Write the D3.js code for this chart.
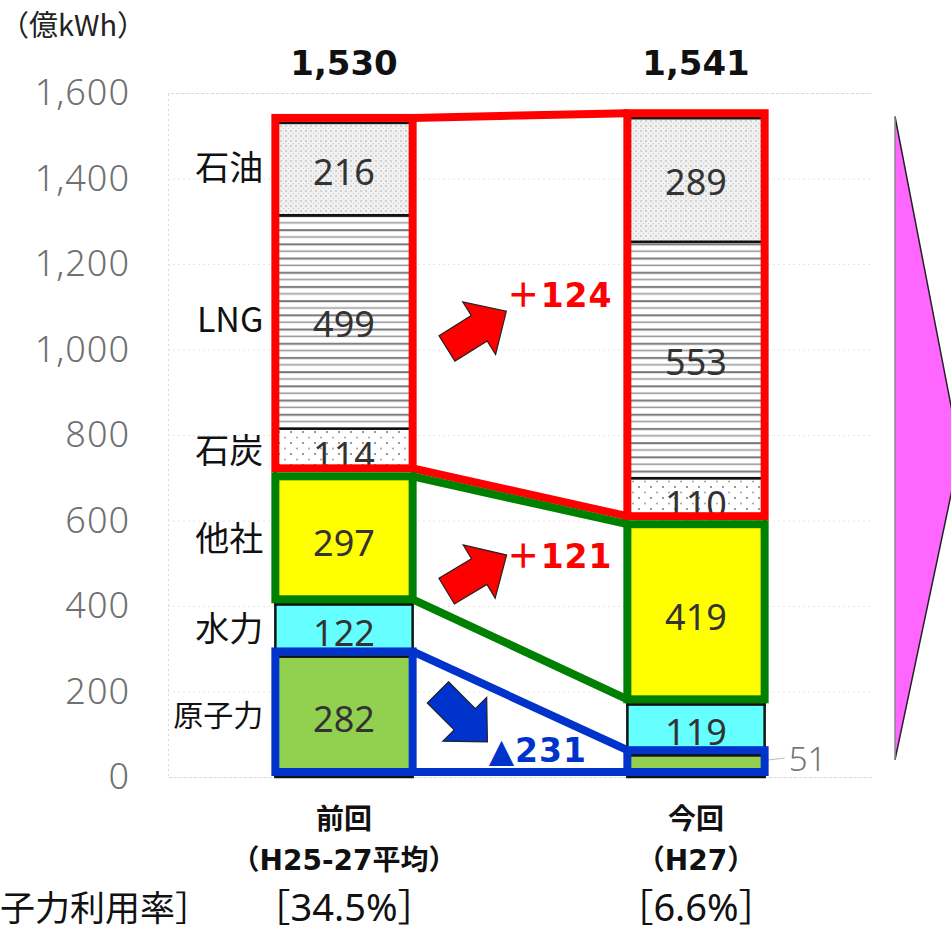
<!DOCTYPE html>
<html>
<head>
<meta charset="utf-8">
<script src="https://cdn.jsdelivr.net/npm/d3@7"></script>
<style>
    body { margin: 0; background: #fff; }
    svg { display: block; }
</style>
</head>
<body>
<svg></svg>
<script>
let width = 951;
let height = 931;

// data (億kWh)
let periods = ['前回', '今回'];
let periodSubs = ['（H25-27平均）', '（H27）'];
let utilRates = ['［34.5%］', '［6.6%］'];
let sources = ['原子力', '水力', '他社', '石炭', 'LNG', '石油'];
let prevValues = [282, 122, 297, 114, 499, 216];
let currValues = [51, 119, 419, 110, 553, 289];
let totalLabels = ['1,530', '1,541'];
let yTicks = [0, 200, 400, 600, 800, 1000, 1200, 1400, 1600];
let changeLabels = ['＋124', '＋121', '▲231'];

let fills = {
    '原子力': '#92d050',
    '水力': '#66ffff',
    '他社': '#ffff00',
    '石炭': 'url(#pat-coal)',
    'LNG': 'url(#pat-lng)',
    '石油': 'url(#pat-oil)'
};

// outlined groups: index range into sources
let groups = [
    { from: 3, to: 5, color: '#ff0000' },
    { from: 2, to: 2, color: '#008000' },
    { from: 0, to: 0, color: '#0033cc' }
];

let table = periods.map((p, j) => {
    let row = { period: p };
    sources.forEach((s, i) => {
        row[s] = j === 0 ? prevValues[i] : currValues[i];
    });
    return row;
});

let svg = d3.select('svg').attr('width', width).attr('height', height);

let xScale = d3.scaleBand()
    .domain(periods)
    .range([168, 872])
    .paddingInner(0.61)
    .paddingOuter(0.305);
let yScale = d3.scaleLinear().domain([0, 1600]).range([777, 93]);
let bw = xScale.bandwidth();

let stacked = d3.stack().keys(sources)(table);

// patterns
let defs = svg.append('defs');
let oil = defs.append('pattern').attr('id', 'pat-oil')
    .attr('patternUnits', 'userSpaceOnUse').attr('width', 5).attr('height', 5);
oil.append('rect').attr('width', 5).attr('height', 5).attr('fill', '#f1f1f1');
oil.append('circle').attr('cx', 1).attr('cy', 1).attr('r', 0.8).attr('fill', '#aaa');
oil.append('circle').attr('cx', 3.5).attr('cy', 3.5).attr('r', 0.6).attr('fill', '#c4c4c4');

let lng = defs.append('pattern').attr('id', 'pat-lng')
    .attr('patternUnits', 'userSpaceOnUse').attr('width', 10).attr('height', 14.2);
lng.append('rect').attr('width', 10).attr('height', 14.2).attr('fill', '#fff');
lng.append('rect').attr('y', 2).attr('width', 10).attr('height', 2).attr('fill', '#777');
lng.append('rect').attr('y', 9).attr('width', 10).attr('height', 1.6).attr('fill', '#9a9a9a');

let coal = defs.append('pattern').attr('id', 'pat-coal')
    .attr('patternUnits', 'userSpaceOnUse').attr('width', 12).attr('height', 11);
coal.append('rect').attr('width', 12).attr('height', 11).attr('fill', '#fff');
coal.append('circle').attr('cx', 3).attr('cy', 3).attr('r', 1).attr('fill', '#777');
coal.append('circle').attr('cx', 9).attr('cy', 8.5).attr('r', 0.9).attr('fill', '#999');

// grid
svg.append('g')
    .attr('transform', `translate(${xScale.range()[0]},0)`)
    .call(d3.axisLeft(yScale).tickValues(yTicks)
        .tickSize(-(xScale.range()[1] - xScale.range()[0])).tickFormat(''))
    .call((g) => g.select('.domain').attr('stroke', '#d8d8d8').attr('stroke-dasharray', '2,3'))
    .call((g) => g.selectAll('.tick line').attr('stroke', '#e6e6e6').attr('stroke-dasharray', '2,3'));

// y axis labels
svg.append('g')
    .attr('transform', `translate(${xScale.range()[0]},0)`)
    .call(d3.axisLeft(yScale).tickValues(yTicks).tickSize(0).tickPadding(38)
        .tickFormat(d3.format(',')))
    .call((g) => g.select('.domain').remove())
    .selectAll('text')
    .attr('font-family', '"Noto Sans", sans-serif')
    .attr('font-weight', 300)
    .attr('font-size', 36)
    .attr('letter-spacing', 1)
    .attr('fill', '#707070');

// unit
svg.append('text')
    .attr('x', 0).attr('y', 36)
    .attr('font-family', '"Noto Sans CJK JP", sans-serif')
    .attr('font-size', 29)
    .attr('fill', '#222')
    .text('（億kWh）');

// stacked segments
let layers = svg.append('g').selectAll('g')
    .data(stacked)
    .join('g')
    .attr('fill', (d) => fills[d.key]);

layers.selectAll('rect')
    .data((d) => d)
    .join('rect')
    .attr('x', (d) => xScale(d.data.period))
    .attr('y', (d) => yScale(d[1]))
    .attr('width', bw)
    .attr('height', (d) => yScale(d[0]) - yScale(d[1]))
    .attr('stroke', '#111')
    .attr('stroke-width', 2.5);

// value labels
stacked.forEach((layer) => {
    layer.forEach((d) => {
        let v = d[1] - d[0];
        let cx = xScale(d.data.period) + bw / 2;
        let cy = yScale((d[0] + d[1]) / 2);
        if (v < 80) {
            let lx = xScale(d.data.period) + bw;
            svg.append('line')
                .attr('x1', lx + 2).attr('x2', lx + 20)
                .attr('y1', cy - 6).attr('y2', cy - 8)
                .attr('stroke', '#bbb').attr('stroke-width', 1);
            svg.append('text')
                .attr('x', lx + 24).attr('y', cy - 8)
                .attr('dominant-baseline', 'central')
                .attr('font-family', '"Noto Sans", sans-serif')
                .attr('font-weight', 300)
                .attr('font-size', 33)
                .attr('fill', '#777')
                .text(v);
        } else {
            svg.append('text')
                .attr('x', cx).attr('y', cy + 2)
                .attr('text-anchor', 'middle')
                .attr('dominant-baseline', 'central')
                .attr('font-family', '"Noto Sans", sans-serif')
                .attr('font-size', 36)
                .attr('fill', '#333')
                .text(v);
        }
    });
});

// source labels left of first bar
stacked.forEach((layer) => {
    let d = layer[0];
    let longName = /[^\x00-\x7f]{3}/.test(layer.key);
    svg.append('text')
        .attr('x', xScale(periods[0]) - 12)
        .attr('y', yScale((d[0] + d[1]) / 2) - 4)
        .attr('text-anchor', 'end')
        .attr('dominant-baseline', 'central')
        .attr('font-family', '"Noto Sans CJK JP", sans-serif')
        .attr('font-size', longName ? 30 : 34)
        .attr('fill', '#111')
        .text(layer.key);
});

// group outlines and connectors
let shift = -5;
let edgeY = (g, j) => {
    let top = stacked[g.to][j][1];
    let bottom = stacked[g.from][j][0];
    let adjAbove = groups.some((o) => o.from === g.to + 1);
    let adjBelow = groups.some((o) => o.to === g.from - 1);
    return {
        top: yScale(top) + shift + (adjAbove ? 4 : 0),
        bottom: yScale(bottom) + shift - (adjBelow ? 4 : 0)
    };
};

groups.forEach((g) => {
    let e0 = edgeY(g, 0);
    let e1 = edgeY(g, 1);
    let xl = xScale(periods[0]);
    let xr = xScale(periods[1]);
    [[xl, e0], [xr, e1]].forEach(([x, e]) => {
        svg.append('rect')
            .attr('x', x).attr('y', e.top)
            .attr('width', bw).attr('height', e.bottom - e.top)
            .attr('fill', 'none')
            .attr('stroke', g.color)
            .attr('stroke-width', 8);
    });
    ['top', 'bottom'].forEach((k) => {
        svg.append('line')
            .attr('x1', xl + bw).attr('y1', e0[k])
            .attr('x2', xr).attr('y2', e1[k])
            .attr('stroke', g.color)
            .attr('stroke-width', 8);
    });
});

// totals
periods.forEach((p, j) => {
    svg.append('text')
        .attr('x', xScale(p) + bw / 2)
        .attr('y', yScale.range()[1] - 18)
        .attr('text-anchor', 'middle')
        .attr('font-family', '"DejaVu Sans", sans-serif')
        .attr('font-weight', 'bold')
        .attr('font-size', 34)
        .attr('fill', '#111')
        .text(totalLabels[j]);
});

// change arrows
let arrowShape = 'M-35,-15 L3,-15 L3,-31 L35,0 L3,31 L3,15 L-35,15 Z';
let arrows = [
    { v: 1046, dx: 64, angle: -32, color: '#ff0000', lx: 30, ly: -23 },
    { v: 477, dx: 64, angle: -31, color: '#ff0000', lx: 30, ly: -5 },
    { v: 140, dx: 50, angle: 45, color: '#0033cc', lx: 26, ly: 45 }
];
arrows.forEach((a, i) => {
    let cx = xScale(periods[0]) + bw + a.dx;
    let cy = yScale(a.v);
    svg.append('path')
        .attr('d', arrowShape)
        .attr('transform', `translate(${cx},${cy}) rotate(${a.angle})`)
        .attr('fill', a.color)
        .attr('stroke', '#222')
        .attr('stroke-width', 1.2);
    svg.append('text')
        .attr('x', cx + a.lx).attr('y', cy + a.ly)
        .attr('font-family', '"DejaVu Sans", "Noto Sans CJK JP", sans-serif')
        .attr('font-weight', 'bold')
        .attr('font-size', 33)
        .attr('letter-spacing', 1)
        .attr('fill', a.color)
        .text(changeLabels[i]);
});

// magenta pointer on the right
let tx = xScale.range()[1] + 23;
svg.append('path')
    .attr('d', d3.line()([[tx, yScale(1545)], [tx + 65, yScale(760)], [tx, yScale(40)]]))
    .attr('fill', '#ff66ff')
    .attr('stroke', '#222')
    .attr('stroke-width', 1.5);
svg.append('line')
    .attr('x1', tx).attr('x2', tx)
    .attr('y1', yScale(1545)).attr('y2', yScale(40))
    .attr('stroke', '#888').attr('stroke-width', 1.5);

// category labels
let base = yScale(0);
periods.forEach((p, j) => {
    let cx = xScale(p) + bw / 2;
    svg.append('text')
        .attr('x', cx).attr('y', base + 52)
        .attr('text-anchor', 'middle')
        .attr('font-family', '"Noto Sans CJK JP", sans-serif')
        .attr('font-weight', 'bold')
        .attr('font-size', 28)
        .attr('fill', '#111')
        .text(p);
    svg.append('text')
        .attr('x', cx).attr('y', base + 93)
        .attr('text-anchor', 'middle')
        .attr('font-family', '"DejaVu Sans", "Noto Sans CJK JP", sans-serif')
        .attr('font-weight', 'bold')
        .attr('font-size', 28)
        .attr('fill', '#111')
        .text(periodSubs[j]);
    svg.append('text')
        .attr('x', cx).attr('y', base + 144)
        .attr('text-anchor', 'middle')
        .attr('font-family', '"Noto Sans", "Noto Sans CJK JP", sans-serif')
        .attr('font-size', 38)
        .attr('fill', '#111')
        .text(utilRates[j]);
});

// row label, only its visible part as in the reference
svg.append('text')
    .attr('x', 0).attr('y', base + 144)
    .attr('font-family', '"Noto Sans CJK JP", sans-serif')
    .attr('font-size', 35)
    .attr('fill', '#111')
    .text('子力利用率］');
</script>
</body>
</html>
